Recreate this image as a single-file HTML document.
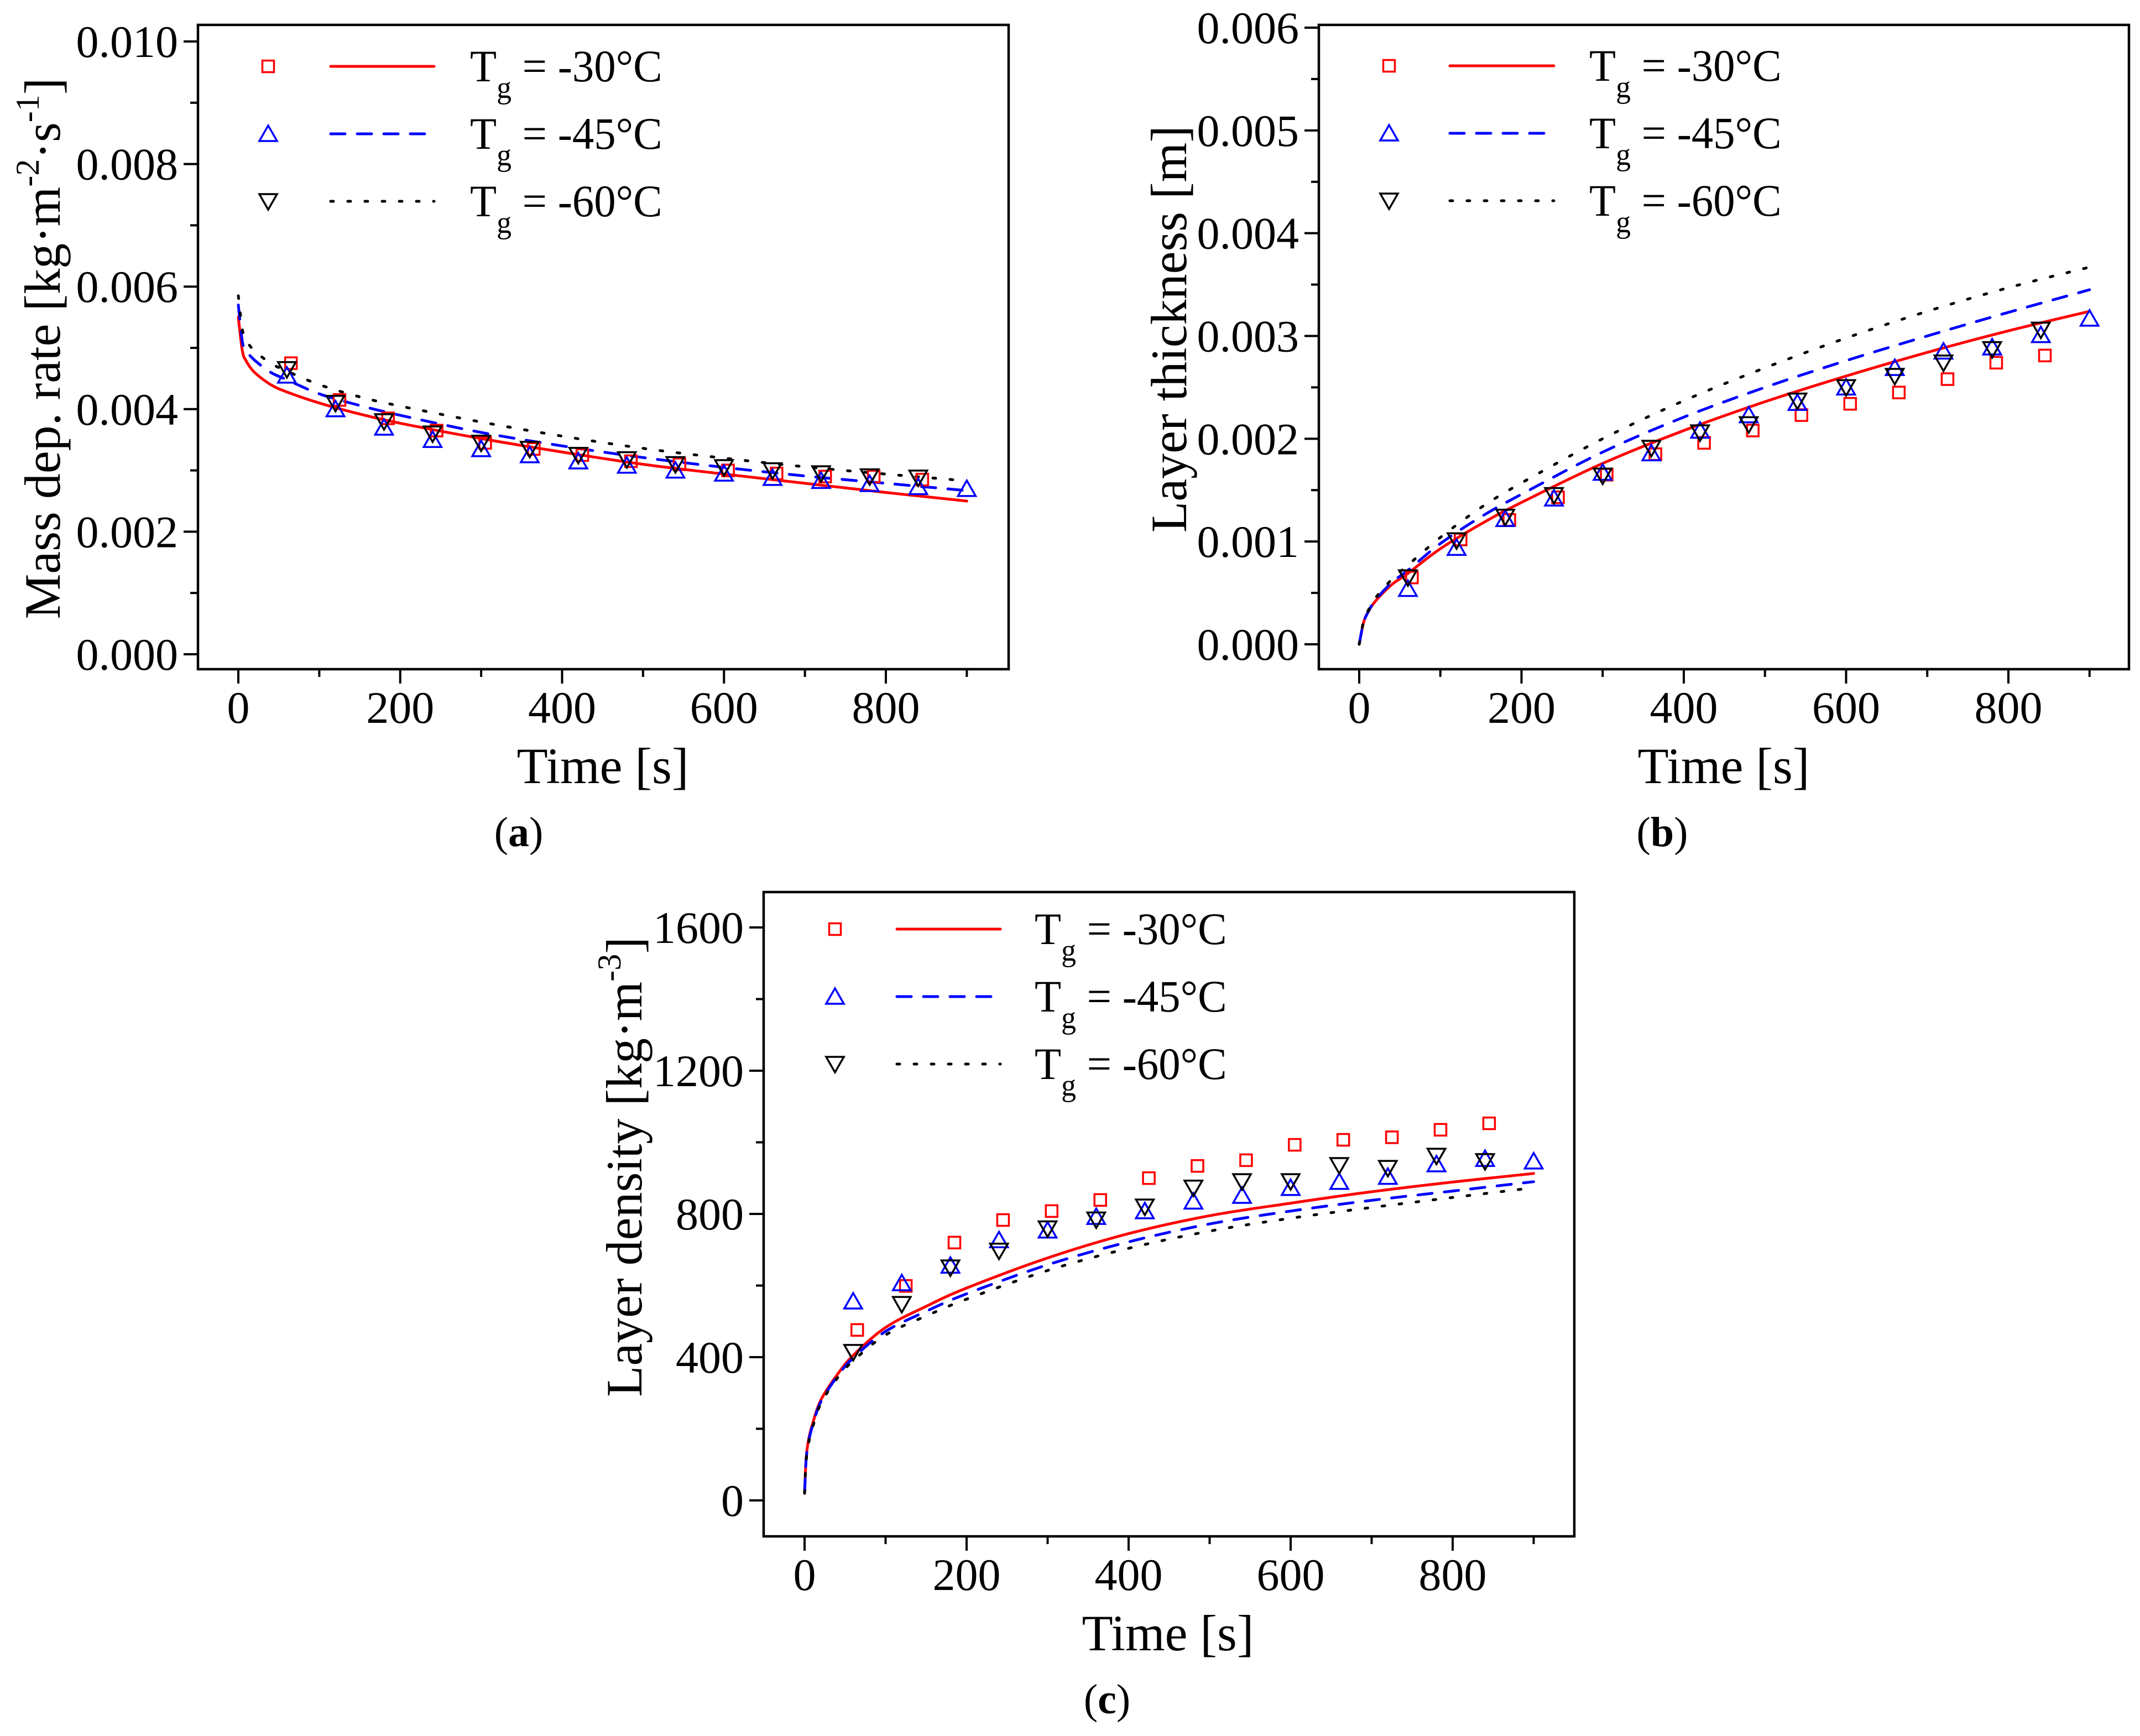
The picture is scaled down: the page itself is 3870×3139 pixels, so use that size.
<!DOCTYPE html>
<html><head><meta charset="utf-8"><style>
html,body{margin:0;padding:0;background:#fff;}
svg{display:block;font-family:"Liberation Serif",serif;}
</style></head><body>
<svg id="fig" width="3870" height="3139" viewBox="0 0 3870 3139" xmlns="http://www.w3.org/2000/svg"></svg>
<script>
// ---------- Panel (a) data: mass deposition rate [x1e-3] ----------
const aCurveT = [0,5,10,20,40,60,100,150,200,300,400,500,600,700,800,900];
const aCurveR = [5.5,4.95,4.78,4.6,4.4,4.28,4.1,3.92,3.77,3.52,3.3,3.1,2.94,2.79,2.64,2.5];
const aCurveB = [5.7,5.1,4.95,4.8,4.6,4.48,4.25,4.06,3.9,3.62,3.4,3.21,3.05,2.91,2.79,2.67];
const aCurveK = [5.85,5.3,5.12,4.95,4.75,4.62,4.4,4.2,4.05,3.79,3.56,3.36,3.2,3.06,2.94,2.83];
const aPtT = [60,120,180,240,300,360,420,480,540,600,660,720,780,840];
const aPtTB = [60,120,180,240,300,360,420,480,540,600,660,720,780,840,900];
const aPtR = [4.75,4.15,3.85,3.65,3.45,3.35,3.25,3.15,3.1,3.0,2.95,2.9,2.9,2.85];
const aPtB = [4.55,4.0,3.7,3.5,3.35,3.25,3.15,3.08,3.0,2.95,2.88,2.83,2.78,2.73,2.7];
const aPtK = [4.65,4.1,3.8,3.6,3.45,3.35,3.25,3.18,3.1,3.05,3.0,2.95,2.9,2.88];
const aYTicks = ["0.000","0.002","0.004","0.006","0.008","0.010"];

// ---------- Panel (b) data: layer thickness [x1e-3 m] ----------
const bCurveT = [0,5,10,20,40,60,100,150,200,300,400,500,600,700,800,900];
const bCurveR = [0,0.2,0.3,0.42,0.58,0.69,0.93,1.17,1.38,1.76,2.08,2.36,2.61,2.84,3.05,3.24];
const bCurveB = [0,0.2,0.3,0.43,0.6,0.72,0.98,1.24,1.46,1.87,2.21,2.5,2.76,3.0,3.23,3.45];
const bCurveK = [0,0.21,0.31,0.45,0.63,0.77,1.04,1.33,1.57,2.0,2.37,2.69,2.98,3.24,3.47,3.67];
const bPtR = [0.65,1.02,1.21,1.43,1.65,1.85,1.96,2.08,2.23,2.34,2.45,2.58,2.74,2.81];
const bPtB = [0.54,0.94,1.22,1.42,1.67,1.86,2.08,2.23,2.35,2.5,2.69,2.85,2.89,3.01,3.17];
const bPtK = [0.65,1.01,1.24,1.45,1.64,1.91,2.06,2.14,2.37,2.5,2.61,2.74,2.87,3.06];
const bYTicks = ["0.000","0.001","0.002","0.003","0.004","0.005","0.006"];

// ---------- Panel (c) data: layer density [kg/m3] ----------
const cCurveT = [0,2,5,10,20,40,60,100,150,200,300,400,500,600,700,800,900];
const cCurveR = [20,120,170,215,280,350,405,483,542,593,677,745,795,830,862,889,913];
const cCurveB = [20,115,165,210,275,345,398,472,528,577,658,722,772,808,838,864,890];
const cCurveK = [20,110,160,205,270,340,390,462,515,562,642,704,752,788,818,846,873];
const cPtR = [476,599,720,783,808,839,900,934,950,993,1007,1014,1035,1053];
const cPtB = [556,607,656,727,754,792,808,835,851,873,890,904,939,954,947];
const cPtK = [414,548,650,697,759,784,820,873,891,891,936,928,962,947];
const cYTicks = ["0","400","800","1200","1600"];

const xTicks = ["0","200","400","600","800"];

const NS = "http://www.w3.org/2000/svg";
const svg = document.getElementById("fig");
function el(tag, attrs, parent, text){
  const e = document.createElementNS(NS, tag);
  for (const k in attrs) e.setAttribute(k, attrs[k]);
  if (text !== undefined) e.textContent = text;
  (parent || svg).appendChild(e);
  return e;
}
function smoothPath(pts){
  let d = "M"+pts[0][0].toFixed(1)+","+pts[0][1].toFixed(1);
  for (let i=0;i<pts.length-1;i++){
    const p0 = pts[Math.max(0,i-1)], p1 = pts[i], p2 = pts[i+1], p3 = pts[Math.min(pts.length-1,i+2)];
    const c1x = p1[0]+(p2[0]-p0[0])/6, c1y = p1[1]+(p2[1]-p0[1])/6;
    const c2x = p2[0]-(p3[0]-p1[0])/6, c2y = p2[1]-(p3[1]-p1[1])/6;
    d += ` C${c1x.toFixed(1)},${c1y.toFixed(1)} ${c2x.toFixed(1)},${c2y.toFixed(1)} ${p2[0].toFixed(1)},${p2[1].toFixed(1)}`;
  }
  return d;
}

function drawPanel(P){
  const g = el("g", {});
  
  
  const sx = t => P.x0 + t * (P.x800 - P.x0) / 800;
  const sy = v => P.yb + (v - P.vb) * (P.yt - P.yb) / (P.vt - P.vb);
  const fr = el("rect", {x:P.L, y:P.T, width:P.R-P.L, height:P.B-P.T, fill:"none", stroke:"#000", "stroke-width":4.5}, g);
  
  
  for (let i=0;i<=9;i++){
    const x = sx(i*100), major = (i%2===0);
    el("line",{x1:x,y1:P.B,x2:x,y2:P.B+(major?26:14),stroke:"#000","stroke-width":4},g);
  }
  xTicks.forEach((lab,i)=>{
    const tx = el("text",{x:sx(i*200),y:P.B+97,"font-size":82,"text-anchor":"middle"},g,lab);
    
    
  });
  const nY = P.yTicks.length;
  for (let i=0;i<nY;i++){
    const v = P.vb + i*P.vStep, y = sy(v);
    el("line",{x1:P.L-26,y1:y,x2:P.L,y2:y,stroke:"#000","stroke-width":4},g);
    if (i<nY-1){ const ym = sy(v+P.vStep/2); el("line",{x1:P.L-14,y1:ym,x2:P.L,y2:ym,stroke:"#000","stroke-width":4},g); }
    const ty = el("text",{x:P.L-36,y:y+28,"font-size":82,"text-anchor":"end"},g,P.yTicks[i]);
    
    
  }
  const xt = el("text",{x:P.xtX,y:P.B+206,"font-size":92,"text-anchor":"middle"},g,"Time [s]");
  
  
  const yt = el("text",{x:0,y:0,"font-size":92,"text-anchor":"middle",transform:`translate(${P.ytX},${P.ytY}) rotate(-90)`},g);
  
  
  P.yTitle.forEach(p=>{
    el("tspan", p.sup?{"font-size":60,dy:-38}:(p.back?{dy:38}:{}), yt, p.t);
  });
  const cap = el("text",{x:P.capX,y:P.capY,"font-size":76,"text-anchor":"middle"},g);
  
  
  el("tspan",{},cap,"(");
  el("tspan",{"font-weight":"bold"},cap,P.cap);
  el("tspan",{},cap,")");

  const styles = [
    {col:"#ff0000", dash:null, marker:"square"},
    {col:"#0000ff", dash:"26 22", marker:"up"},
    {col:"#000000", dash:"5 26", marker:"down"}
  ];
  const names = ["-30","-45","-60"];
  P.curves.forEach((vals,s)=>{
    const pts = vals.map((v,i)=>[sx(P.curveT[i]), sy(v)]);
    const a = {d:smoothPath(pts), fill:"none", stroke:styles[s].col, "stroke-width":5, "stroke-linecap":"round", "stroke-linejoin":"round"};
    if (styles[s].dash) a["stroke-dasharray"] = styles[s].dash;
    const pth = el("path", a, g);
    
    
  });
  function marker(kind,cx,cy,col,parent){
    if (kind==="square") return el("rect",{x:cx-10.5,y:cy-10.5,width:21,height:21,fill:"none",stroke:col,"stroke-width":3.5},parent);
    if (kind==="up") return el("path",{d:`M${cx-16},${cy+13} L${cx+16},${cy+13} L${cx},${cy-15} Z`,fill:"none",stroke:col,"stroke-width":3.5},parent);
    return el("path",{d:`M${cx-16},${cy-13} L${cx+16},${cy-13} L${cx},${cy+15} Z`,fill:"none",stroke:col,"stroke-width":3.5},parent);
  }
  P.points.forEach((vals,s)=>{
    vals.forEach((v,i)=>{
      const t = aPtTB[i] + (s===0?5:0);
      const m = marker(styles[s].marker, sx(t), sy(v), styles[s].col, g);
      
      
    });
  });
  const lg = el("g",{},g);
  
  
  [0,1,2].forEach(s=>{
    const y = P.legY + s*122;
    const e = el("g",{},lg);
    
    
    marker(styles[s].marker, P.legM, y, styles[s].col, e);
    const la = {x1:P.legL1,y1:y,x2:P.legL2,y2:y,stroke:styles[s].col,"stroke-width":5,"stroke-linecap":"round"};
    if (styles[s].dash) la["stroke-dasharray"] = styles[s].dash;
    el("line",la,e);
    const tx = el("text",{x:0,y:0,"font-size":82,transform:`translate(${P.legTx},${y+27}) scale(0.96,1)`},e);
    el("tspan",{},tx,"T");
    el("tspan",{"font-size":56,dy:30},tx,"g");
    el("tspan",{dy:-30},tx," = "+names[s]+"°C");
  });
}

drawPanel({name:"panel-a-mass-deposition-rate", L:358,R:1824,T:45,B:1210, x0:431,x800:1602,
  yb:1183, yt:75, vb:0, vt:10, vStep:2, yTicks:aYTicks,
  curveT:aCurveT, curves:[aCurveR,aCurveB,aCurveK], points:[aPtR,aPtB,aPtK],
  xtX:1090, ytX:108, ytY:630, capX:938, capY:1530, cap:"a",
  yTitle:[{t:"Mass dep. rate [kg·m"},{t:"-2",sup:1},{t:"·s",back:1},{t:"-1",sup:1},{t:"]",back:1}],
  legM:485, legL1:598, legL2:785, legTx:850, legY:120});

drawPanel({name:"panel-b-layer-thickness", L:2385,R:3850,T:45,B:1210, x0:2458,x800:3632,
  yb:1165, yt:50, vb:0, vt:6, vStep:1, yTicks:bYTicks,
  curveT:bCurveT, curves:[bCurveR,bCurveB,bCurveK], points:[bPtR,bPtB,bPtK],
  xtX:3117, ytX:2145, ytY:595, capX:3006, capY:1530, cap:"b",
  yTitle:[{t:"Layer thickness [m]"}],
  legM:2512, legL1:2622, legL2:2810, legTx:2874, legY:119});

drawPanel({name:"panel-c-layer-density", L:1381,R:2847,T:1613,B:2778, x0:1455,x800:2627,
  yb:2713, yt:1677, vb:0, vt:1600, vStep:400, yTicks:cYTicks,
  curveT:cCurveT, curves:[cCurveR,cCurveB,cCurveK], points:[cPtR,cPtB,cPtK],
  xtX:2112, ytX:1160, ytY:2110, capX:2002, capY:3098, cap:"c",
  yTitle:[{t:"Layer density [kg·m"},{t:"-3",sup:1},{t:"]",back:1}],
  legM:1510, legL1:1622, legL2:1809, legTx:1871, legY:1680});
</script>
</body></html>
